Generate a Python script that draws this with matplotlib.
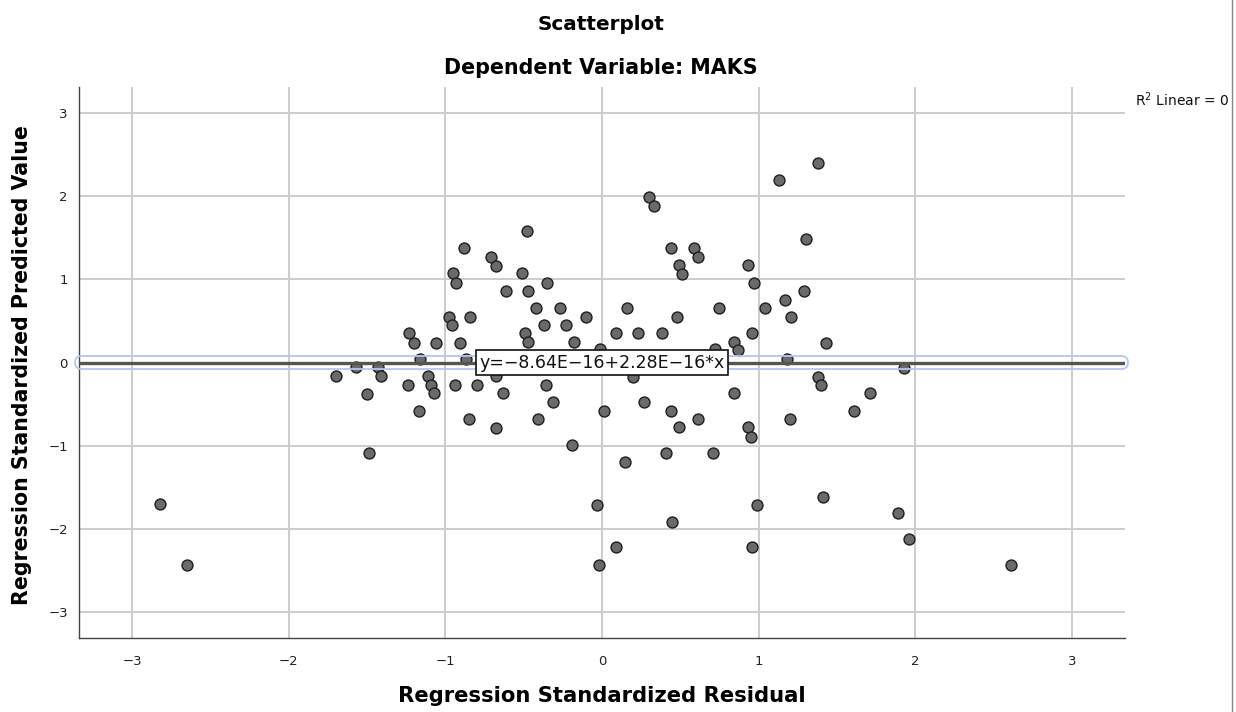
import matplotlib
matplotlib.use("Agg")
import matplotlib.pyplot as plt
from matplotlib.patches import FancyBboxPatch
from matplotlib.lines import Line2D

# Regression standardized residuals (x) and standardized predicted values (y)
residual = [
    -2.82, -2.65,
    -0.48, -0.88, -0.71, -0.68, -0.95, -0.93, -0.51, -0.35, -0.61, -0.47,
    -0.42, -0.98, -0.96, -0.84, -0.37, -0.49, -0.47, -1.23, -1.20, -1.06,
    -0.91, -1.16, -0.87, -1.57, -1.43, -1.41, -1.70, -1.50, -1.11, -1.09,
    -1.07, -1.24, -0.94, -0.80, -0.68, -0.63, -0.36, -0.31, -1.17, -0.85,
    -0.68, -0.41, -1.49,
    1.13, 0.30, 0.33, 0.44, 0.59, 0.61, 0.49, 0.51, 0.93, 0.97,
    -0.27, -0.23, -0.10, 0.16, 0.48, 0.75, 1.04, 0.09, 0.23, 0.38,
    0.96, -0.18, 0.84, 0.87, -0.01, 0.72, 0.20,
    0.01, 0.27, 0.44, 0.49, 0.61, 0.84, 0.93, 0.95, 1.20, -0.19,
    0.15, 0.41, 0.71, 1.41, -0.03, 0.99, 0.45, 0.09, 0.96, -0.02,
    1.38, 1.30, 1.29, 1.17, 1.21, 1.43, 1.18, 1.93, 1.38, 1.40,
    1.71, 1.61,
    1.89, 1.96, 2.61,
]
predicted = [
    -1.70, -2.43,
    1.58, 1.37, 1.27, 1.16, 1.07, 0.96, 1.07, 0.96, 0.86, 0.86,
    0.65, 0.55, 0.45, 0.55, 0.45, 0.35, 0.25, 0.35, 0.24, 0.24,
    0.24, 0.04, 0.04, -0.06, -0.06, -0.16, -0.16, -0.38, -0.16, -0.27,
    -0.37, -0.27, -0.27, -0.27, -0.16, -0.37, -0.27, -0.47, -0.58, -0.68,
    -0.79, -0.68, -1.09,
    2.19, 1.99, 1.88, 1.37, 1.37, 1.27, 1.17, 1.06, 1.17, 0.96,
    0.65, 0.45, 0.55, 0.65, 0.55, 0.65, 0.65, 0.35, 0.35, 0.35,
    0.35, 0.25, 0.25, 0.15, 0.16, 0.16, -0.17,
    -0.58, -0.48, -0.58, -0.78, -0.68, -0.37, -0.78, -0.89, -0.68, -0.99,
    -1.20, -1.09, -1.09, -1.61, -1.71, -1.71, -1.92, -2.22, -2.22, -2.43,
    2.40, 1.48, 0.86, 0.75, 0.55, 0.24, 0.04, -0.07, -0.17, -0.27,
    -0.37, -0.58,
    -1.81, -2.12, -2.43,
]

# Fit line y = a + b*x
intercept = -8.64e-16
slope = 2.28e-16
fit_label = "y=\u22128.64E\u221216+2.28E\u221216*x"
r2_label = "R$^2$ Linear = 0"

ticks = [-3, -2, -1, 0, 1, 2, 3]
tick_labels = ["\u22123", "\u22122", "\u22121", "0", "1", "2", "3"]
xlim = (-3.34, 3.34)
ylim = (-3.31, 3.31)

title_font = ["DejaVu Sans"]

fig = plt.figure(figsize=(12.36, 7.12), dpi=100)
ax = fig.add_axes([79 / 1236, 1 - 638 / 712, (1125 - 79) / 1236, (638 - 87) / 712])

ax.set_xlim(*xlim)
ax.set_ylim(*ylim)
ax.set_xticks(ticks)
ax.set_xticklabels(tick_labels)
ax.set_yticks(ticks)
ax.set_yticklabels(tick_labels)
ax.tick_params(length=0, labelsize=9.5, colors="#222222")
ax.tick_params(axis="x", pad=12)
ax.tick_params(axis="y", pad=8)
ax.grid(True, color="#cccccc", linewidth=1.4)
ax.set_axisbelow(True)
for side in ("top", "right"):
    ax.spines[side].set_visible(False)
for side in ("left", "bottom"):
    ax.spines[side].set_color("#444444")
    ax.spines[side].set_linewidth(1.0)

ax.scatter(residual, predicted, s=62, facecolor="#6a6a6a", edgecolor="#1e1e1e",
           linewidth=1.0, zorder=3)

# Fit line with its selection outline
xs = [xlim[0], xlim[1]]
ys = [intercept + slope * v for v in xs]
ax.plot(xs, ys, color="#555555", linewidth=2.4, zorder=4, solid_capstyle="butt")
yc = intercept
px_x = 1 / 156.6
px_y = 1 / 83.2
box = FancyBboxPatch((xlim[0] - 4 * px_x, yc - 6.5 * px_y),
                     (xlim[1] - xlim[0]) + 7 * px_x, 13 * px_y,
                     boxstyle=f"round,pad=0,rounding_size={6.5 * px_x}",
                     mutation_aspect=px_y / px_x,
                     facecolor="none", edgecolor="#b4c8ee", linewidth=1.3,
                     zorder=5, clip_on=False)
ax.add_patch(box)

ax.text(0, yc, fit_label, ha="center", va="center", fontsize=12.5, color="#111111",
        zorder=6, bbox=dict(boxstyle="square,pad=0.22", facecolor="white",
                            edgecolor="#111111", linewidth=1.2))

ax.set_xlabel("Regression Standardized Residual", fontsize=15.2, fontweight="bold",
              family=title_font, va="center")
ax.xaxis.set_label_coords(0.5, (638 - 696) / 551)
ax.set_ylabel("Regression Standardized Predicted Value", fontsize=14.8,
              fontweight="bold", family=title_font, va="center")
ax.yaxis.set_label_coords((22 - 79) / 1046, (638 - 365) / 551)

fig.text(601 / 1236, 1 - 25 / 712, "Scatterplot", ha="center", va="center",
         fontsize=14.4, fontweight="bold", family=title_font)
fig.text(601 / 1236, 1 - 68 / 712, "Dependent Variable: MAKS", ha="center",
         va="center", fontsize=14.9, fontweight="bold", family=title_font)

fig.text(1229 / 1236, 1 - 100 / 712, r2_label, ha="right", va="center",
         fontsize=10, color="#111111")

fig.add_artist(Line2D([1232 / 1236, 1232 / 1236], [0, 1], color="#888888",
                      linewidth=1.0, transform=fig.transFigure))

fig.savefig("out.png", dpi=100)
